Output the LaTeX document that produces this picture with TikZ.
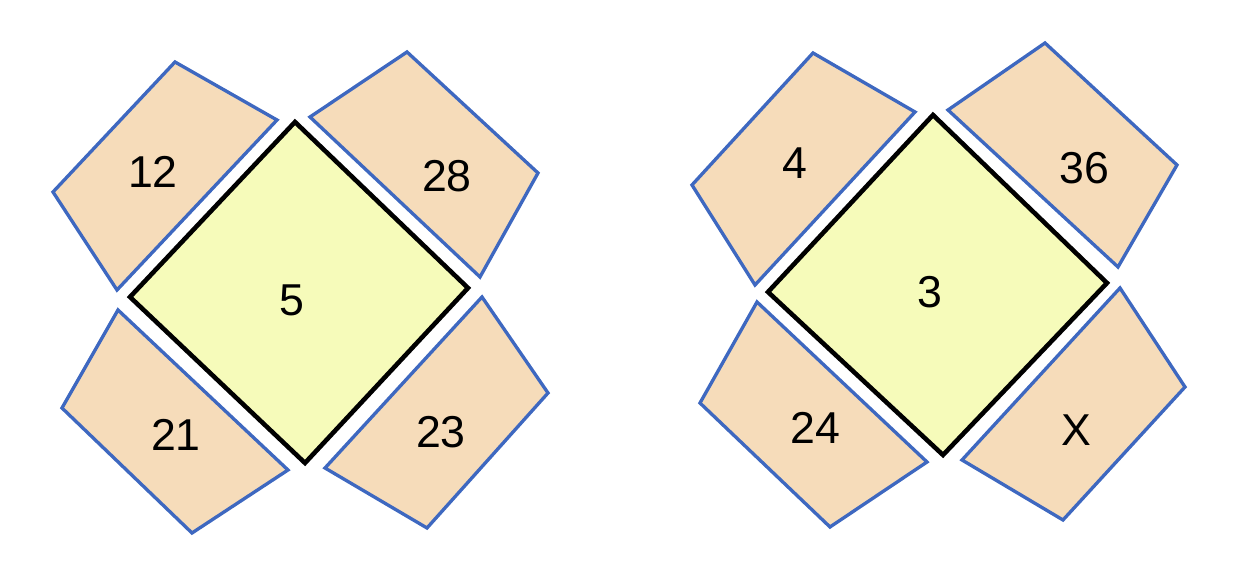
\documentclass[tikz,border=0pt]{standalone}
\usepackage{fontspec}
\setmainfont{Liberation Sans}
\usepackage{tikz}

\definecolor{peach}{RGB}{246,220,186}
\definecolor{flap}{RGB}{62,104,192}
\definecolor{pale}{RGB}{246,251,186}

\begin{document}
\begin{tikzpicture}[x=0.01cm,y=-0.01cm,
  flapbox/.style={draw=flap,fill=peach,line width=0.95pt,line join=miter},
  core/.style={draw=black,fill=pale,line width=1.3pt,line join=miter},
  num/.style={font=\fontsize{12.7}{14}\selectfont,inner sep=0pt}]
\useasboundingbox (0,0) rectangle (1254,574);
% left figure
\draw[flapbox] (175,62) -- (277,120) -- (117,290) -- (53,192) -- cycle;
\draw[flapbox] (310,117) -- (407,52) -- (538,173) -- (480,277) -- cycle;
\draw[flapbox] (118,310) -- (288,470) -- (192,533) -- (62,408) -- cycle;
\draw[flapbox] (482,297) -- (548,393) -- (427,528) -- (325,468) -- cycle;
\draw[core] (295,122) -- (468,288) -- (305,463) -- (130,297) -- cycle;
\node[num] (a12) at (153,172) {12};
\node[num] (a28) at (447,176) {28};
\node[num] (a5) at (292,300) {5};
\node[num] (a21) at (176,435) {21};
\node[num] (a23) at (441,432) {23};
% right figure
\draw[flapbox] (813,53) -- (915,112) -- (755,285) -- (692,185) -- cycle;
\draw[flapbox] (948,110) -- (1045,43) -- (1177,165) -- (1118,267) -- cycle;
\draw[flapbox] (757,302) -- (927,462) -- (830,527) -- (700,403) -- cycle;
\draw[flapbox] (1120,288) -- (1185,387) -- (1063,520) -- (962,460) -- cycle;
\draw[core] (933,115) -- (1107,283) -- (943,455) -- (768,292) -- cycle;
\node[num] (b4) at (795,163) {4};
\node[num] (b36) at (1084,168) {36};
\node[num] (b3) at (930,292) {3};
\node[num] (b24) at (815,428) {24};
\node[num] (bx) at (1076,430) {X};
\end{tikzpicture}
\end{document}
